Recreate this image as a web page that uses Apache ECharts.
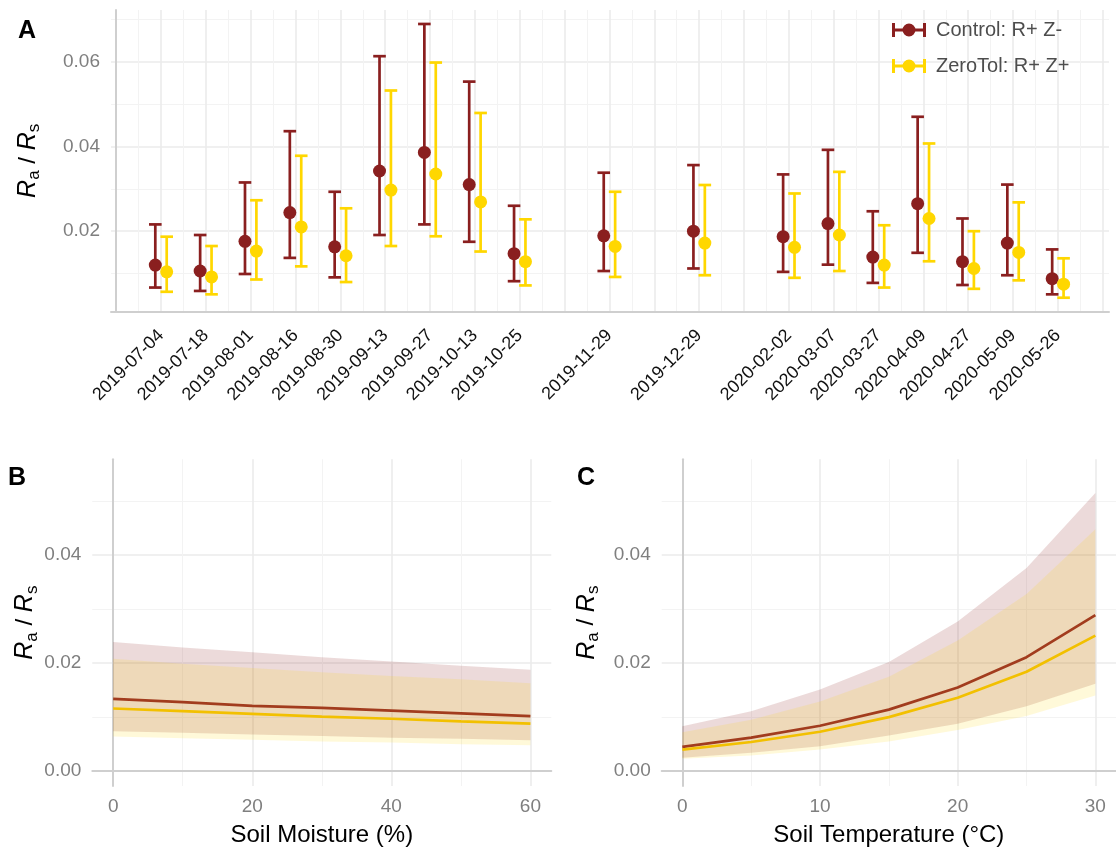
<!DOCTYPE html>
<html><head><meta charset="utf-8">
<script src="https://cdn.jsdelivr.net/npm/echarts@6/dist/echarts.min.js"></script>
<style>html,body{margin:0;padding:0;background:#fff}#c{width:1116px;height:848px}</style>
</head><body><div id="c"></div>
<script>
// ---------- Panel A data (blank labels = empty slots on the axis) ----------
const dateLabels = ['2019-07-04','2019-07-18','2019-08-01','2019-08-16','2019-08-30','2019-09-13','2019-09-27','2019-10-13','2019-10-25','','2019-11-29','','2019-12-29','','2020-02-02','2020-03-07','2020-03-27','2020-04-09','2020-04-27','2020-05-09','2020-05-26'];
const ctrlMean = [0.0120,0.0106,0.0176,0.0244,0.0163,0.0342,0.0386,0.0310,0.0147,null,0.0189,null,0.0200,null,0.0187,0.0218,0.0139,0.0265,0.0128,0.0172,0.0088];
const ctrlLow  = [0.0067,0.0059,0.0099,0.0137,0.0091,0.0191,0.0216,0.0175,0.0082,null,0.0106,null,0.0112,null,0.0104,0.0121,0.0078,0.0149,0.0073,0.0096,0.0051];
const ctrlHigh = [0.0216,0.0191,0.0315,0.0436,0.0293,0.0613,0.0689,0.0553,0.0260,null,0.0338,null,0.0356,null,0.0334,0.0392,0.0247,0.0470,0.0230,0.0310,0.0157];
const zeroMean = [0.0104,0.0092,0.0153,0.0210,0.0142,0.0297,0.0335,0.0269,0.0128,null,0.0164,null,0.0172,null,0.0162,0.0191,0.0120,0.0230,0.0112,0.0150,0.0075];
const zeroLow  = [0.0057,0.0051,0.0086,0.0117,0.0080,0.0165,0.0188,0.0152,0.0072,null,0.0092,null,0.0096,null,0.0090,0.0106,0.0067,0.0129,0.0064,0.0084,0.0043];
const zeroHigh = [0.0187,0.0165,0.0273,0.0378,0.0254,0.0532,0.0598,0.0479,0.0228,null,0.0293,null,0.0309,null,0.0289,0.0340,0.0214,0.0407,0.0200,0.0268,0.0136];

// ---------- Panel B data ----------
const moistX    = [0,10,20,30,40,50,60];
const moistCtrl   = [0.0134,0.0128,0.0121,0.0117,0.0112,0.0107,0.0102];
const moistCtrlLo = [0.0074,0.0071,0.0068,0.0065,0.0062,0.0060,0.0057];
const moistCtrlHi = [0.0239,0.0229,0.0220,0.0211,0.0203,0.0195,0.0188];
const moistZero   = [0.0116,0.0111,0.0106,0.0101,0.0097,0.0092,0.0088];
const moistZeroLo = [0.0064,0.0061,0.0058,0.0055,0.0053,0.0050,0.0048];
const moistZeroHi = [0.0208,0.0199,0.0191,0.0183,0.0176,0.0170,0.0163];

// ---------- Panel C data ----------
const tempX     = [0,5,10,15,20,25,30];
const tempCtrl   = [0.0045,0.0062,0.0084,0.0114,0.0155,0.0211,0.0289];
const tempCtrlLo = [0.0025,0.0034,0.0046,0.0066,0.0088,0.0120,0.0162];
const tempCtrlHi = [0.0083,0.0111,0.0151,0.0202,0.0277,0.0376,0.0515];
const tempZero   = [0.0040,0.0054,0.0073,0.0100,0.0136,0.0184,0.0251];
const tempZeroLo = [0.0023,0.0029,0.0040,0.0055,0.0076,0.0102,0.0140];
const tempZeroHi = [0.0072,0.0095,0.0129,0.0175,0.0242,0.0328,0.0448];

// ---------- Tick values ----------
const aYTicks = [0.02,0.04,0.06];
const aYMinor = [0.01,0.03,0.05,0.07];
const bcYTicks = [0,0.02,0.04];
const bcYMinor = [0.01,0.03,0.05];
const bXTicks = [0,20,40,60];
const bXMinor = [10,30,50];
const cXTicks = [0,10,20,30];
const cXMinor = [5,15,25];

const seriesNames = ['Control: R+ Z-','ZeroTol: R+ Z+'];

// ---------- styling ----------
const FONT = 'Liberation Sans, Arial, Helvetica, sans-serif';
const C_CTRL = '#8a1f1f', C_ZERO = '#ffd700';
const L_CTRL = '#a23c1e', L_ZERO = '#f2c000';
const GRID_MAJOR = {color:'#ebebeb', width:1.6};
const GRID_MINOR = {color:'#f3f3f3', width:1};
const AXIS_LINE = {show:true, lineStyle:{color:'#cfcfcf', width:2}};

// slots for panel A (1-based positions of categories incl. blanks)
const slotCount = dateLabels.length;
const aXMajor = Array.from({length: slotCount + 2}, (_, i) => i);
const aXMinor = Array.from({length: slotCount + 1}, (_, i) => i + 0.5);
const aXLabelPos = dateLabels.map((d, i) => d ? i + 1 : null).filter(v => v !== null);

function mainAxis(extra) {
  return Object.assign({
    type:'value', axisLine:{show:false}, axisTick:{show:false},
    splitLine:{show:true, lineStyle:GRID_MAJOR}, minorSplitLine:{show:false}
  }, extra);
}
function minorAxis(grid, min, max, vals, pos) {
  return {type:'value', gridIndex:grid, min, max, position:pos,
    axisLine:{show:false}, axisTick:{show:false, customValues:vals},
    axisLabel:{show:false}, splitLine:{show:true, lineStyle:GRID_MINOR}};
}
const yName = '{r|R}{s|a}{n| / }{r|R}{s|s}';
const yNameStyle = {color:'#000', rich:{
  r:{fontFamily:FONT, fontStyle:'italic', fontSize:25, lineHeight:30, verticalAlign:'middle', color:'#000'},
  s:{fontFamily:FONT, fontSize:17, lineHeight:30, verticalAlign:'bottom', color:'#000'},
  n:{fontFamily:FONT, fontSize:24, lineHeight:30, verticalAlign:'middle', color:'#000'}
}};
const yLabel = {color:'#7f7f7f', fontSize:19, fontFamily:FONT, margin:11, formatter: v => v.toFixed(2)};
const xLabelBC = {color:'#7f7f7f', fontSize:19, fontFamily:FONT, margin:11};

function errBar(offset, color) {
  return function (params, api) {
    const x = api.value(0), lo = api.value(1), hi = api.value(2);
    const pLo = api.coord([x, lo]), pHi = api.coord([x, hi]);
    const cx = pLo[0] + offset, hw = 6.3;
    const st = {stroke: color, lineWidth: 2.7, fill: null};
    return {type:'group', children:[
      {type:'line', shape:{x1:cx, y1:pLo[1], x2:cx, y2:pHi[1]}, style:st},
      {type:'line', shape:{x1:cx-hw, y1:pHi[1], x2:cx+hw, y2:pHi[1]}, style:st},
      {type:'line', shape:{x1:cx-hw, y1:pLo[1], x2:cx+hw, y2:pLo[1]}, style:st}
    ]};
  };
}
function ribbon(xs, lo, hi, color) {
  return function (params, api) {
    const pts = [];
    xs.forEach((x, i) => pts.push(api.coord([x, hi[i]])));
    for (let i = xs.length - 1; i >= 0; i--) pts.push(api.coord([xs[i], lo[i]]));
    return {type:'polygon', shape:{points:pts}, style:{fill:color}};
  };
}
function barData(lo, hi) {
  return dateLabels.map((d, i) => d ? [i + 1, lo[i], hi[i]] : null).filter(Boolean);
}
function ptData(m) {
  return dateLabels.map((d, i) => d ? [i + 1, m[i]] : null).filter(Boolean);
}
function pairs(xs, ys) { return xs.map((x, i) => [x, ys[i]]); }

const legendIcon = 'path://M0,0H3V14H0Z M31,0H34V14H31Z M0,5.6H34V8.4H0Z M10.5,7A6.5,6.5 0 1,1 23.5,7A6.5,6.5 0 1,1 10.5,7Z';

const option = {
  animation:false,
  backgroundColor:'#fff',
  textStyle:{fontFamily:FONT},
  grid:[
    {left:111, top:10, width:998, height:301.7},
    {left:92.3, top:459.3, width:459, height:327.4},
    {left:661.7, top:459.3, width:459, height:327.4}
  ],
  xAxis:[
    mainAxis({gridIndex:0, min:-0.115, max:22.14, position:'bottom', axisLine:AXIS_LINE,
      axisTick:{show:false, customValues:aXMajor},
      axisLabel:{customValues:aXLabelPos, rotate:45, margin:21,
        color:'#111', fontSize:18, fontFamily:FONT,
        formatter: v => dateLabels[Math.round(v) - 1] || ''}}),
    minorAxis(0, -0.115, 22.14, aXMinor, 'top'),
    mainAxis({gridIndex:1, min:-3, max:63, position:'bottom', axisLine:AXIS_LINE,
      axisTick:{show:false, customValues:bXTicks},
      axisLabel:Object.assign({customValues:bXTicks}, xLabelBC),
      name:'Soil Moisture (%)', nameLocation:'middle', nameGap:37,
      nameTextStyle:{color:'#000', fontSize:24, fontFamily:FONT}}),
    minorAxis(1, -3, 63, bXMinor, 'top'),
    mainAxis({gridIndex:2, min:-1.5, max:31.5, position:'bottom', axisLine:AXIS_LINE,
      axisTick:{show:false, customValues:cXTicks},
      axisLabel:Object.assign({customValues:cXTicks}, xLabelBC),
      name:'Soil Temperature (°C)', nameLocation:'middle', nameGap:37,
      nameTextStyle:{color:'#000', fontSize:24, fontFamily:FONT}}),
    minorAxis(2, -1.5, 31.5, cXMinor, 'top')
  ],
  yAxis:[
    mainAxis({gridIndex:0, min:0.001, max:0.0722, position:'left', axisLine:AXIS_LINE,
      axisTick:{show:false, customValues:aYTicks},
      axisLabel:Object.assign({customValues:aYTicks}, yLabel),
      name:yName, nameLocation:'middle', nameRotate:90, nameGap:68, nameTextStyle:yNameStyle}),
    minorAxis(0, 0.001, 0.0722, aYMinor, 'right'),
    mainAxis({gridIndex:1, min:-0.00275, max:0.05775, position:'left', axisLine:AXIS_LINE,
      axisTick:{show:false, customValues:bcYTicks},
      axisLabel:Object.assign({customValues:bcYTicks}, yLabel),
      name:yName, nameLocation:'middle', nameRotate:90, nameGap:50, nameTextStyle:yNameStyle}),
    minorAxis(1, -0.00275, 0.05775, bcYMinor, 'right'),
    mainAxis({gridIndex:2, min:-0.00275, max:0.05775, position:'left', axisLine:AXIS_LINE,
      axisTick:{show:false, customValues:bcYTicks},
      axisLabel:Object.assign({customValues:bcYTicks}, yLabel),
      name:yName, nameLocation:'middle', nameRotate:90, nameGap:60, nameTextStyle:yNameStyle}),
    minorAxis(2, -0.00275, 0.05775, bcYMinor, 'right')
  ],
  legend:{
    orient:'vertical', left:887, top:15, itemWidth:34, itemHeight:14, itemGap:16,
    selectedMode:false,
    textStyle:{color:'#4d4d4d', fontSize:20, fontFamily:FONT, lineHeight:20, padding:[0,0,0,5]},
    data:[
      {name:seriesNames[0], icon:legendIcon, itemStyle:{color:C_CTRL}},
      {name:seriesNames[1], icon:legendIcon, itemStyle:{color:C_ZERO}}
    ]
  },
  graphic:[
    {type:'text', left:18, top:19, style:{text:'A', font:'bold 25px ' + FONT, fill:'#000'}},
    {type:'text', left:8, top:466, style:{text:'B', font:'bold 25px ' + FONT, fill:'#000'}},
    {type:'text', left:577, top:466, style:{text:'C', font:'bold 25px ' + FONT, fill:'#000'}}
  ],
  series:[
    // Panel A
    {type:'custom', name:seriesNames[0], xAxisIndex:0, yAxisIndex:0, renderItem:errBar(-5.7, C_CTRL),
      itemStyle:{color:C_CTRL}, encode:{x:0, y:[1,2]}, data:barData(ctrlLow, ctrlHigh), z:2},
    {type:'custom', name:seriesNames[1], xAxisIndex:0, yAxisIndex:0, renderItem:errBar(5.7, C_ZERO),
      itemStyle:{color:C_ZERO}, encode:{x:0, y:[1,2]}, data:barData(zeroLow, zeroHigh), z:2},
    {type:'scatter', name:seriesNames[0], xAxisIndex:0, yAxisIndex:0, symbolSize:13, symbolOffset:[-5.7,0],
      itemStyle:{color:C_CTRL, opacity:1}, data:ptData(ctrlMean), z:3},
    {type:'scatter', name:seriesNames[1], xAxisIndex:0, yAxisIndex:0, symbolSize:13, symbolOffset:[5.7,0],
      itemStyle:{color:C_ZERO, opacity:1}, data:ptData(zeroMean), z:3},
    // Panel B
    {type:'custom', name:'ctrlBandB', xAxisIndex:2, yAxisIndex:2, silent:true,
      renderItem:ribbon(moistX, moistCtrlLo, moistCtrlHi, 'rgba(139,26,26,0.16)'), data:[[moistX[0], moistCtrlLo[0]]], z:1},
    {type:'custom', name:'zeroBandB', xAxisIndex:2, yAxisIndex:2, silent:true,
      renderItem:ribbon(moistX, moistZeroLo, moistZeroHi, 'rgba(255,215,0,0.15)'), data:[[moistX[0], moistZeroLo[0]]], z:1},
    {type:'line', name:'ctrlLineB', xAxisIndex:2, yAxisIndex:2, showSymbol:false, silent:true,
      lineStyle:{color:L_CTRL, width:2.7}, data:pairs(moistX, moistCtrl), z:2},
    {type:'line', name:'zeroLineB', xAxisIndex:2, yAxisIndex:2, showSymbol:false, silent:true,
      lineStyle:{color:L_ZERO, width:2.7}, data:pairs(moistX, moistZero), z:2},
    // Panel C
    {type:'custom', name:'ctrlBandC', xAxisIndex:4, yAxisIndex:4, silent:true,
      renderItem:ribbon(tempX, tempCtrlLo, tempCtrlHi, 'rgba(139,26,26,0.16)'), data:[[tempX[0], tempCtrlLo[0]]], z:1},
    {type:'custom', name:'zeroBandC', xAxisIndex:4, yAxisIndex:4, silent:true,
      renderItem:ribbon(tempX, tempZeroLo, tempZeroHi, 'rgba(255,215,0,0.15)'), data:[[tempX[0], tempZeroLo[0]]], z:1},
    {type:'line', name:'ctrlLineC', xAxisIndex:4, yAxisIndex:4, showSymbol:false, silent:true,
      lineStyle:{color:L_CTRL, width:2.7}, data:pairs(tempX, tempCtrl), z:2},
    {type:'line', name:'zeroLineC', xAxisIndex:4, yAxisIndex:4, showSymbol:false, silent:true,
      lineStyle:{color:L_ZERO, width:2.7}, data:pairs(tempX, tempZero), z:2}
  ]
};
const chart = echarts.init(document.getElementById('c'), null, {renderer:'canvas'});
chart.setOption(option);
</script>
</body></html>
